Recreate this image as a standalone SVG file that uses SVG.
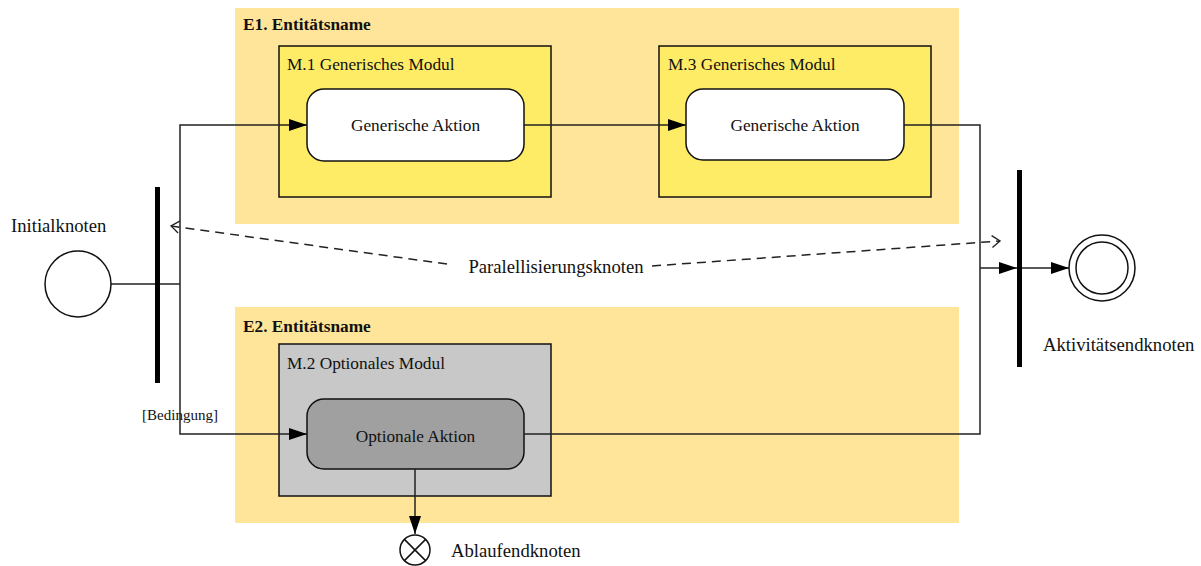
<svg xmlns="http://www.w3.org/2000/svg" width="1201" height="566" viewBox="0 0 1201 566">
<style>
text{font-family:"Liberation Serif","Times New Roman",serif;fill:#111}
.lane{fill:#FFE599;stroke:none}
.mod{fill:#FFEC66;stroke:#111;stroke-width:1.5}
.optmod{fill:#C8C8C8;stroke:#111;stroke-width:1.5}
.act{fill:#fff;stroke:#111;stroke-width:1.5}
.optact{fill:#A0A0A0;stroke:#111;stroke-width:1.5}
.t18{font-size:18.67px}
.t17{font-size:17.3px}
.b{font-size:17.3px;font-weight:bold}
.flow{fill:none;stroke:#222;stroke-width:1.5}
.dash{fill:none;stroke:#222;stroke-width:1.5;stroke-dasharray:9,6}
.bar{fill:#000}
</style>
<defs>
<marker id="ah" viewBox="0 0 18 12" refX="18" refY="6" markerWidth="18" markerHeight="12" markerUnits="userSpaceOnUse" orient="auto">
<path d="M0,0 L18,6 L0,12 Z" fill="#000"/>
</marker>
<marker id="oh" viewBox="0 0 10 14" refX="9" refY="7" markerWidth="10" markerHeight="14" markerUnits="userSpaceOnUse" orient="auto">
<path d="M1,1 L9,7 L1,13" fill="none" stroke="#222" stroke-width="1.3"/>
</marker>
</defs>
<rect width="1201" height="566" fill="#fff"/>

<g id="lane-e1">
<rect class="lane" x="235" y="8" width="724" height="216"/>
<text class="b" x="243" y="30">E1. Entitätsname</text>
</g>
<g id="lane-e2">
<rect class="lane" x="235" y="307" width="724" height="216"/>
<text class="b" x="243" y="332">E2. Entitätsname</text>
</g>

<g id="module-m1">
<rect class="mod" x="279" y="46" width="272" height="151"/>
<text class="t17" x="287" y="70">M.1 Generisches Modul</text>
</g>
<g id="action-m1">
<rect class="act" x="307" y="89" width="217" height="72" rx="17"/>
<text class="t17" x="415.5" y="131" text-anchor="middle">Generische Aktion</text>
</g>
<g id="module-m3">
<rect class="mod" x="659" y="46" width="272" height="151"/>
<text class="t17" x="668" y="70">M.3 Generisches Modul</text>
</g>
<g id="action-m3">
<rect class="act" x="686" y="89" width="218" height="71" rx="17"/>
<text class="t17" x="795" y="131" text-anchor="middle">Generische Aktion</text>
</g>
<g id="module-m2">
<rect class="optmod" x="279" y="344" width="272" height="152"/>
<text class="t17" x="287" y="369">M.2 Optionales Modul</text>
</g>
<g id="action-m2">
<rect class="optact" x="307" y="399" width="217" height="70" rx="17"/>
<text class="t17" x="415.5" y="442" text-anchor="middle">Optionale Aktion</text>
</g>

<g id="connectors">
<line class="flow" x1="111" y1="284" x2="180" y2="284"/>
<polyline class="flow" points="180,284 180,125 307,125" marker-end="url(#ah)"/>
<polyline class="flow" points="180,284 180,434 307,434" marker-end="url(#ah)"/>
<line class="flow" x1="524" y1="125" x2="686" y2="125" marker-end="url(#ah)"/>
<polyline class="flow" points="904,125 980,125 980,434 524,434"/>
<line class="flow" x1="980" y1="268" x2="1017" y2="268" marker-end="url(#ah)"/>
<line class="flow" x1="1022" y1="268" x2="1069" y2="268" marker-end="url(#ah)"/>
<line class="flow" x1="415" y1="469" x2="415" y2="534" marker-end="url(#ah)"/>
<line class="dash" x1="447" y1="264" x2="171" y2="226" marker-end="url(#oh)"/>
<line class="dash" x1="652" y1="266" x2="1000" y2="241" marker-end="url(#oh)"/>
<text class="t17" x="180" y="420" text-anchor="middle" style="font-size:15px">[Bedingung]</text>
</g>

<g id="initial-node">
<circle cx="78" cy="284" r="33" fill="#fff" stroke="#111" stroke-width="1.5"/>
<text class="t18" x="11" y="232">Initialknoten</text>
</g>
<g id="fork">
<rect class="bar" x="155" y="187" width="5" height="196"/>
</g>
<g id="parallel-label">
<text class="t18" x="556" y="273" text-anchor="middle">Paralellisierungsknoten</text>
</g>
<g id="join">
<rect class="bar" x="1017" y="170" width="5" height="197"/>
</g>
<g id="final-node">
<circle cx="1102" cy="268" r="33" fill="#fff" stroke="#111" stroke-width="1.5"/>
<circle cx="1102" cy="268" r="26" fill="#fff" stroke="#111" stroke-width="1.5"/>
<text class="t18" x="1043" y="351">Aktivitätsendknoten</text>
</g>
<g id="flow-final">
<circle cx="415" cy="550" r="15" fill="#fff" stroke="#111" stroke-width="1.5"/>
<line x1="404.4" y1="539.4" x2="425.6" y2="560.6" stroke="#111" stroke-width="1.5"/>
<line x1="425.6" y1="539.4" x2="404.4" y2="560.6" stroke="#111" stroke-width="1.5"/>
<text class="t18" x="451" y="557">Ablaufendknoten</text>
</g>
</svg>
